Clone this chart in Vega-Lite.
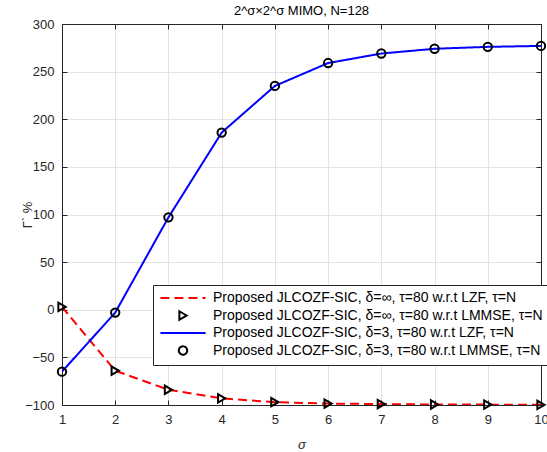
{
  "$schema": "https://vega.github.io/schema/vega-lite/v6.json",
  "width": 479,
  "height": 381,
  "autosize": {"type": "none"},
  "padding": {"left": 62, "top": 24, "right": 6, "bottom": 47},
  "background": "white",
  "title": {"text": "2^σ×2^σ MIMO, N=128", "fontSize": 13, "fontWeight": "normal", "color": "#000000", "offset": 0, "font": "Liberation Sans"},
  "data": {"values": [
    {"sigma": 1, "value": 3, "series": "Proposed JLCOZF-SIC, δ=∞, τ=80 w.r.t LZF, τ=N"},
    {"sigma": 2, "value": -64, "series": "Proposed JLCOZF-SIC, δ=∞, τ=80 w.r.t LZF, τ=N"},
    {"sigma": 3, "value": -84, "series": "Proposed JLCOZF-SIC, δ=∞, τ=80 w.r.t LZF, τ=N"},
    {"sigma": 4, "value": -93, "series": "Proposed JLCOZF-SIC, δ=∞, τ=80 w.r.t LZF, τ=N"},
    {"sigma": 5, "value": -97, "series": "Proposed JLCOZF-SIC, δ=∞, τ=80 w.r.t LZF, τ=N"},
    {"sigma": 6, "value": -98.5, "series": "Proposed JLCOZF-SIC, δ=∞, τ=80 w.r.t LZF, τ=N"},
    {"sigma": 7, "value": -99, "series": "Proposed JLCOZF-SIC, δ=∞, τ=80 w.r.t LZF, τ=N"},
    {"sigma": 8, "value": -99.5, "series": "Proposed JLCOZF-SIC, δ=∞, τ=80 w.r.t LZF, τ=N"},
    {"sigma": 9, "value": -99.6, "series": "Proposed JLCOZF-SIC, δ=∞, τ=80 w.r.t LZF, τ=N"},
    {"sigma": 10, "value": -99.8, "series": "Proposed JLCOZF-SIC, δ=∞, τ=80 w.r.t LZF, τ=N"},
    {"sigma": 1, "value": 3, "series": "Proposed JLCOZF-SIC, δ=∞, τ=80 w.r.t LMMSE, τ=N"},
    {"sigma": 2, "value": -64, "series": "Proposed JLCOZF-SIC, δ=∞, τ=80 w.r.t LMMSE, τ=N"},
    {"sigma": 3, "value": -84, "series": "Proposed JLCOZF-SIC, δ=∞, τ=80 w.r.t LMMSE, τ=N"},
    {"sigma": 4, "value": -93, "series": "Proposed JLCOZF-SIC, δ=∞, τ=80 w.r.t LMMSE, τ=N"},
    {"sigma": 5, "value": -97, "series": "Proposed JLCOZF-SIC, δ=∞, τ=80 w.r.t LMMSE, τ=N"},
    {"sigma": 6, "value": -98.5, "series": "Proposed JLCOZF-SIC, δ=∞, τ=80 w.r.t LMMSE, τ=N"},
    {"sigma": 7, "value": -99, "series": "Proposed JLCOZF-SIC, δ=∞, τ=80 w.r.t LMMSE, τ=N"},
    {"sigma": 8, "value": -99.5, "series": "Proposed JLCOZF-SIC, δ=∞, τ=80 w.r.t LMMSE, τ=N"},
    {"sigma": 9, "value": -99.6, "series": "Proposed JLCOZF-SIC, δ=∞, τ=80 w.r.t LMMSE, τ=N"},
    {"sigma": 10, "value": -99.8, "series": "Proposed JLCOZF-SIC, δ=∞, τ=80 w.r.t LMMSE, τ=N"},
    {"sigma": 1, "value": -65, "series": "Proposed JLCOZF-SIC, δ=3, τ=80 w.r.t LZF, τ=N"},
    {"sigma": 2, "value": -3, "series": "Proposed JLCOZF-SIC, δ=3, τ=80 w.r.t LZF, τ=N"},
    {"sigma": 3, "value": 97, "series": "Proposed JLCOZF-SIC, δ=3, τ=80 w.r.t LZF, τ=N"},
    {"sigma": 4, "value": 186, "series": "Proposed JLCOZF-SIC, δ=3, τ=80 w.r.t LZF, τ=N"},
    {"sigma": 5, "value": 235, "series": "Proposed JLCOZF-SIC, δ=3, τ=80 w.r.t LZF, τ=N"},
    {"sigma": 6, "value": 259, "series": "Proposed JLCOZF-SIC, δ=3, τ=80 w.r.t LZF, τ=N"},
    {"sigma": 7, "value": 269, "series": "Proposed JLCOZF-SIC, δ=3, τ=80 w.r.t LZF, τ=N"},
    {"sigma": 8, "value": 274, "series": "Proposed JLCOZF-SIC, δ=3, τ=80 w.r.t LZF, τ=N"},
    {"sigma": 9, "value": 276, "series": "Proposed JLCOZF-SIC, δ=3, τ=80 w.r.t LZF, τ=N"},
    {"sigma": 10, "value": 277, "series": "Proposed JLCOZF-SIC, δ=3, τ=80 w.r.t LZF, τ=N"},
    {"sigma": 1, "value": -65, "series": "Proposed JLCOZF-SIC, δ=3, τ=80 w.r.t LMMSE, τ=N"},
    {"sigma": 2, "value": -3, "series": "Proposed JLCOZF-SIC, δ=3, τ=80 w.r.t LMMSE, τ=N"},
    {"sigma": 3, "value": 97, "series": "Proposed JLCOZF-SIC, δ=3, τ=80 w.r.t LMMSE, τ=N"},
    {"sigma": 4, "value": 186, "series": "Proposed JLCOZF-SIC, δ=3, τ=80 w.r.t LMMSE, τ=N"},
    {"sigma": 5, "value": 235, "series": "Proposed JLCOZF-SIC, δ=3, τ=80 w.r.t LMMSE, τ=N"},
    {"sigma": 6, "value": 259, "series": "Proposed JLCOZF-SIC, δ=3, τ=80 w.r.t LMMSE, τ=N"},
    {"sigma": 7, "value": 269, "series": "Proposed JLCOZF-SIC, δ=3, τ=80 w.r.t LMMSE, τ=N"},
    {"sigma": 8, "value": 274, "series": "Proposed JLCOZF-SIC, δ=3, τ=80 w.r.t LMMSE, τ=N"},
    {"sigma": 9, "value": 276, "series": "Proposed JLCOZF-SIC, δ=3, τ=80 w.r.t LMMSE, τ=N"},
    {"sigma": 10, "value": 277, "series": "Proposed JLCOZF-SIC, δ=3, τ=80 w.r.t LMMSE, τ=N"}
  ]},
  "layer": [
    {
      "transform": [{"filter": "indexof(datum.series, 'LZF') >= 0"}],
      "mark": {"type": "line", "strokeWidth": 2, "clip": true},
      "encoding": {
        "x": {"field": "sigma", "type": "quantitative", "scale": {"domain": [1, 10], "nice": false, "zero": false},
          "axis": {"title": "σ", "titleFontStyle": "italic", "values": [1,2,3,4,5,6,7,8,9,10], "grid": true, "orient": "bottom", "titlePadding": 12}},
        "y": {"field": "value", "type": "quantitative", "scale": {"domain": [-100, 300], "nice": false, "zero": false},
          "axis": {"title": "Γ` %", "values": [-100,-50,0,50,100,150,200,250,300], "grid": true, "orient": "left", "titlePadding": -10}},
        "color": {"field": "series", "type": "nominal",
          "scale": {"domain": ["Proposed JLCOZF-SIC, δ=∞, τ=80 w.r.t LZF, τ=N", "Proposed JLCOZF-SIC, δ=∞, τ=80 w.r.t LMMSE, τ=N", "Proposed JLCOZF-SIC, δ=3, τ=80 w.r.t LZF, τ=N", "Proposed JLCOZF-SIC, δ=3, τ=80 w.r.t LMMSE, τ=N"],
            "range": ["#ff0000", "#000000", "#0000ff", "#000000"]}, "legend": {"title": null}},
        "strokeDash": {"field": "series", "type": "nominal",
          "scale": {"domain": ["Proposed JLCOZF-SIC, δ=∞, τ=80 w.r.t LZF, τ=N", "Proposed JLCOZF-SIC, δ=∞, τ=80 w.r.t LMMSE, τ=N", "Proposed JLCOZF-SIC, δ=3, τ=80 w.r.t LZF, τ=N", "Proposed JLCOZF-SIC, δ=3, τ=80 w.r.t LMMSE, τ=N"],
            "range": [[9, 5], [1, 0], [1, 0], [1, 0]]}, "legend": {"title": null}}
      }
    },
    {
      "transform": [{"filter": "indexof(datum.series, 'LMMSE') >= 0"}],
      "mark": {"type": "point", "filled": false, "strokeWidth": 2, "opacity": 1, "size": 70},
      "encoding": {
        "x": {"field": "sigma", "type": "quantitative", "axis": {"orient": "top", "labels": false, "title": null, "grid": false, "values": [1,2,3,4,5,6,7,8,9,10]}},
        "y": {"field": "value", "type": "quantitative", "axis": {"orient": "right", "labels": false, "title": null, "grid": false, "values": [-100,-50,0,50,100,150,200,250,300]}},
        "color": {"field": "series", "type": "nominal", "legend": {"title": null}},
        "shape": {"field": "series", "type": "nominal",
          "scale": {"domain": ["Proposed JLCOZF-SIC, δ=∞, τ=80 w.r.t LZF, τ=N", "Proposed JLCOZF-SIC, δ=∞, τ=80 w.r.t LMMSE, τ=N", "Proposed JLCOZF-SIC, δ=3, τ=80 w.r.t LZF, τ=N", "Proposed JLCOZF-SIC, δ=3, τ=80 w.r.t LMMSE, τ=N"],
            "range": ["M-5.4,0H5.4", "triangle-right", "M-5.4,0H5.4", "circle"]}, "legend": {"title": null}}
      }
    }
  ],
  "resolve": {"axis": {"x": "independent", "y": "independent"}},
  "config": {
    "font": "Liberation Sans",
    "view": {"stroke": "#262626", "strokeWidth": 1},
    "axis": {
      "domainColor": "#262626",
      "tickColor": "#262626",
      "tickSize": -5,
      "labelPadding": 13,
      "labelFontSize": 13,
      "labelColor": "#262626",
      "titleColor": "#262626",
      "titleFontSize": 13,
      "titleFontWeight": "normal",
      "gridColor": "#e3e3e3",
      "gridWidth": 1,
      "labelFlush": false,
      "labelOverlap": false
    },
    "legend": {
      "orient": "none",
      "legendX": 91,
      "legendY": 261,
      "padding": 6,
      "strokeColor": "#262626",
      "fillColor": "white",
      "labelFontSize": 14,
      "labelColor": "#000000",
      "labelLimit": 0,
      "symbolStrokeWidth": 2,
      "symbolSize": 70,
      "symbolOffset": 17,
      "rowPadding": 1.5,
      "labelOffset": 23
    }
  }
}
